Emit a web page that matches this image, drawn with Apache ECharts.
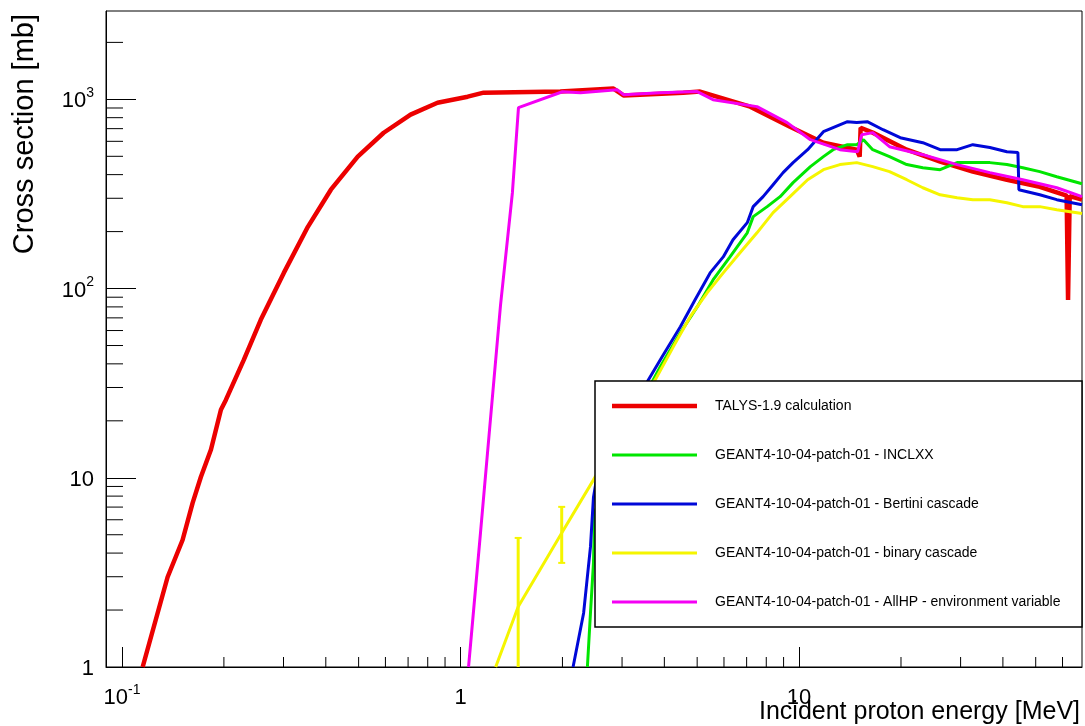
<!DOCTYPE html>
<html><head><meta charset="utf-8">
<script src="https://cdn.jsdelivr.net/npm/echarts@6/dist/echarts.min.js"></script>
<style>html,body{margin:0;padding:0;background:#fff}#c{width:1085px;height:726px}</style>
</head><body><div id="c"></div>
<script>
// ---------- data ----------
const seriesNames = [
  'TALYS-1.9 calculation',
  'GEANT4-10-04-patch-01 - INCLXX',
  'GEANT4-10-04-patch-01 - Bertini cascade',
  'GEANT4-10-04-patch-01 - binary cascade',
  'GEANT4-10-04-patch-01 - AllHP - environment variable'
];
const talysE  = [0.1151,0.1364,0.151,0.1617,0.171,0.1832,0.196,0.2027,0.229,0.257,0.3006,0.354,0.414,0.497,0.593,0.712,0.855,1.05,1.17,1.97,2.83,3.03,4.55,5.1,7.17,9.4,11.8,14.8,15.1,15.2,16.5,20.8,26.1,32.6,41.1,51.4,61.7,62.3,62.6,63.0,68.5];
const talysXS = [1.0,2.99,4.69,7.37,10.1,14.1,22.9,25.8,42,68.4,121,212,333,498,666,830,960,1033,1085,1099,1140,1049,1085,1099,915,717,590,542,498,708,667,542,469,415,376,345,310,87,87,308,295];
const inclE   = [2.37,2.42,2.47,2.49,2.96,3.71,3.89,4.46,5.0,5.57,6.25,7.03,7.32,8.05,8.79,9.6,10.8,11.8,12.6,13.9,14.8,15.5,16.5,18.5,20.8,23.2,26.1,29.3,32.6,36.6,41.1,45.8,51.4,57.7,68.5];
const inclXS  = [1,1.93,3.55,6.5,17,33,38.6,58.4,80,111,147,197,240,271,306,363,441,498,542,576,576,612,542,498,452,435,425,463,463,463,452,435,415,390,358];
const bertE   = [2.15,2.31,2.42,2.47,2.52,2.96,3.59,3.94,4.46,4.93,5.46,5.97,6.38,7.03,7.32,7.83,8.38,8.97,9.6,10.6,11.8,13.9,14.8,15.9,17.7,19.9,23.2,26.1,29.3,32.6,36.6,41.1,44.3,44.6,51.4,57.7,68.5];
const bertXS  = [1,1.93,4.31,7.9,9.75,17.9,33,43.6,62.8,87.2,121,147,181,223,271,306,354,410,463,542,675,762,754,762,691,627,590,542,542,576,556,529,524,333,313,295,277];
const binE    = [1.27,1.48,1.99,2.47,3.07,3.76,4.25,4.77,5.35,5.97,6.7,7.51,8.38,9.4,10.6,11.8,13.2,14.8,16.5,18.5,20.8,23.2,26.1,29.3,32.6,36.6,41.1,45.8,51.4,57.7,68.5];
const binXS   = [1,2.08,5.11,9.75,19,33,49.2,71,95,121,155,197,252,306,376,425,452,463,441,415,376,341,313,302,295,295,284,271,271,261,249];
const binErrE    = [1.48,1.99];
const binErrXS   = [2.08,5.11];
const binErrLow  = [0.5,3.55];
const binErrHigh = [4.81,7.02];
const allhpE  = [1.056,1.146,1.226,1.312,1.423,1.483,2.0,2.26,2.9,3.03,3.89,5.0,5.57,7.51,9.22,10.8,13.2,14.9,15.3,16.5,18.5,23.2,29.3,36.6,45.8,57.7,68.5];
const allhpXS = [1,5.17,20.5,81,321,904,1097,1085,1125,1059,1085,1099,996,915,753,612,542,529,650,667,562,510,452,410,376,341,306];
const xMinorTicks = [0.2,0.3,0.4,0.5,0.6,0.7,0.8,0.9,2,3,4,5,6,7,8,9,20,30,40,50,60];
const yMinorTicks = [2,3,4,5,6,7,8,9,20,30,40,50,60,70,80,90,200,300,400,500,600,700,800,900,2000];
const X_MIN = 0.0897, X_MAX = 68.5, Y_MIN = 1, Y_MAX = 2930;
const xTitle = 'Incident proton energy [MeV]';
const yTitle = 'Cross section [mb]';

// ---------- helpers ----------
const zip = (a, b) => a.map((v, i) => [v, b[i]]);
const FONT = '"Liberation Sans", Arial, Helvetica, sans-serif';
const colors = ['#ec0000', '#00e600', '#0008d8', '#f5f500', '#f400f4'];
const widths = [4.5, 3, 3, 3, 3];

function decadeLabel(v) {
  const l = Math.log10(v), k = Math.round(l);
  if (Math.abs(l - k) > 0.01) return '';
  if (k === 0) return '{n|1}';
  if (k === 1) return '{n|10}';
  return '{n|10}{s|' + k + '}';
}
const richLbl = {
  n: {fontSize: 22, fontFamily: FONT, color: '#000', lineHeight: 26, verticalAlign: 'bottom'},
  s: {fontSize: 14, fontFamily: FONT, color: '#000', lineHeight: 26, verticalAlign: 'top'}
};

const lineData = [zip(talysE, talysXS), zip(inclE, inclXS), zip(bertE, bertXS), zip(binE, binXS), zip(allhpE, allhpXS)];

const series = lineData.map((d, i) => ({
  name: seriesNames[i], type: 'line', data: d, symbol: 'none', showSymbol: false,
  lineStyle: {color: colors[i], width: widths[i]}, itemStyle: {color: colors[i]},
  z: 2 + (i === 4 ? 1 : 0), animation: false, clip: true
}));

// yellow error bars
series.push({
  type: 'custom', silent: true, animation: false, z: 2,
  data: binErrE.map((e, i) => [e, binErrXS[i], binErrLow[i], binErrHigh[i]]),
  renderItem: (params, api) => {
    const e = api.value(0);
    const top = api.coord([e, api.value(3)]);
    const bot = api.coord([e, api.value(2)]);
    const cs = params.coordSys;
    const yb = Math.min(bot[1], cs.y + cs.height);
    const c = colors[3];
    const kids = [
      {type: 'line', shape: {x1: top[0], y1: top[1], x2: top[0], y2: yb}, style: {stroke: c, lineWidth: 3}},
      {type: 'line', shape: {x1: top[0] - 3.5, y1: top[1], x2: top[0] + 3.5, y2: top[1]}, style: {stroke: c, lineWidth: 2}}
    ];
    if (bot[1] < cs.y + cs.height) kids.push({type: 'line', shape: {x1: bot[0] - 3.5, y1: bot[1], x2: bot[0] + 3.5, y2: bot[1]}, style: {stroke: c, lineWidth: 2}});
    return {type: 'group', children: kids};
  }
});

// minor ticks
series.push({
  type: 'custom', silent: true, animation: false, z: 6, clip: false,
  data: xMinorTicks.map(v => [v, Y_MIN]),
  renderItem: (params, api) => {
    const p = api.coord([api.value(0), Y_MIN]);
    return {type: 'line', shape: {x1: p[0], y1: p[1], x2: p[0], y2: p[1] - 10}, style: {stroke: '#000', lineWidth: 1}};
  }
});
series.push({
  type: 'custom', silent: true, animation: false, z: 6, clip: false,
  data: yMinorTicks.map(v => [X_MIN, v]),
  renderItem: (params, api) => {
    const p = api.coord([X_MIN, api.value(1)]);
    return {type: 'line', shape: {x1: p[0], y1: p[1], x2: p[0] + 17, y2: p[1]}, style: {stroke: '#000', lineWidth: 1}};
  }
});

const legendData = seriesNames.map((n, i) => ({
  name: n,
  icon: 'path://M0,0H85V' + (i === 0 ? 4.5 : 3) + 'H0Z',
  itemStyle: {color: colors[i]}
}));

const chart = echarts.init(document.getElementById('c'), null, {renderer: 'canvas'});
chart.setOption({
  animation: false,
  backgroundColor: '#fff',
  grid: {left: 106, right: 3, top: 11, bottom: 59, show: true, borderColor: '#000', borderWidth: 1, backgroundColor: 'transparent'},
  xAxis: {
    type: 'log', logBase: 10, min: X_MIN, max: X_MAX,
    axisLine: {show: true, lineStyle: {color: '#000', width: 1}},
    axisTick: {show: true, inside: true, length: 20, lineStyle: {color: '#000', width: 1}},
    axisLabel: {show: true, margin: 16, showMinLabel: false, showMaxLabel: false, formatter: v => decadeLabel(v), rich: richLbl},
    splitLine: {show: false}, minorTick: {show: false}, minorSplitLine: {show: false}
  },
  yAxis: {
    type: 'log', logBase: 10, min: Y_MIN, max: Y_MAX,
    axisLine: {show: true, lineStyle: {color: '#000', width: 1}},
    axisTick: {show: true, inside: true, length: 30, lineStyle: {color: '#000', width: 1}},
    axisLabel: {show: true, margin: 12, showMaxLabel: false, formatter: v => decadeLabel(v), rich: richLbl},
    splitLine: {show: false}, minorTick: {show: false}, minorSplitLine: {show: false}
  },
  legend: {
    show: true, orient: 'vertical', left: 607, top: 394, z: 60,
    itemWidth: 85, itemHeight: 14, itemGap: 35, selectedMode: false, symbolKeepAspect: true,
    data: legendData,
    textStyle: {fontSize: 14, fontFamily: FONT, color: '#000', lineHeight: 14, padding: [0, 0, 0, 13]}
  },
  graphic: [
    {type: 'rect', z: 50, shape: {x: 595, y: 381, width: 487, height: 246}, style: {fill: '#fff', stroke: '#000', lineWidth: 1.5}},
    {type: 'text', z: 50, x: 25, y: 14, rotation: Math.PI / 2,
     style: {text: yTitle, fontSize: 29, fontFamily: FONT, fill: '#000', align: 'right', verticalAlign: 'middle'}},
    {type: 'text', z: 50, x: 1080, y: 712,
     style: {text: xTitle, fontSize: 25, fontFamily: FONT, fill: '#000', align: 'right', verticalAlign: 'middle'}}
  ],
  series: series
});
</script>
</body></html>
